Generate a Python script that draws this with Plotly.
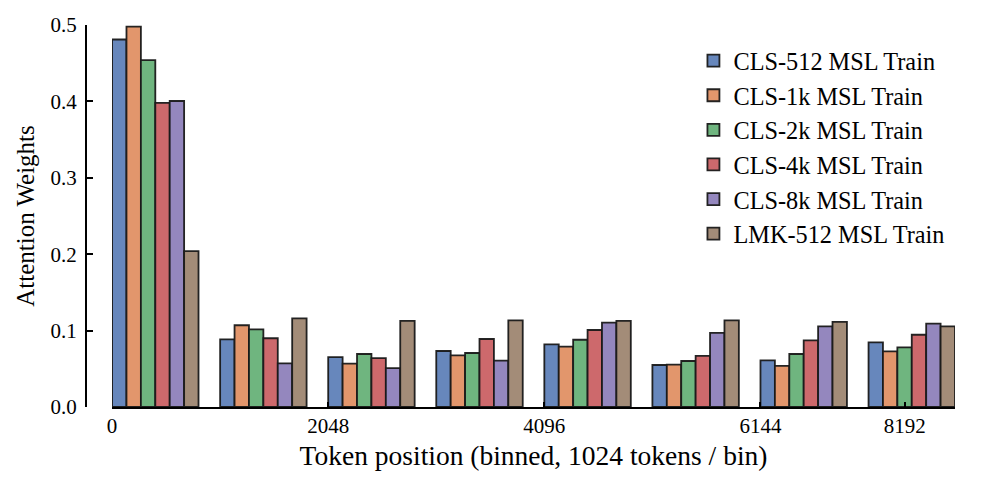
import plotly.graph_objects as go

# ---- data ----
bin_starts = [0, 1024, 2048, 3072, 4096, 5120, 6144, 7168]
series_names = ["CLS-512 MSL Train", "CLS-1k MSL Train", "CLS-2k MSL Train",
                "CLS-4k MSL Train", "CLS-8k MSL Train", "LMK-512 MSL Train"]
cls_512 = [0.481, 0.0886, 0.0654, 0.0733, 0.082, 0.055, 0.0611, 0.0847]
cls_1k = [0.498, 0.107, 0.0567, 0.0677, 0.079, 0.0554, 0.0537, 0.0729]
cls_2k = [0.454, 0.1017, 0.0694, 0.0707, 0.088, 0.0602, 0.0694, 0.0781]
cls_4k = [0.398, 0.090, 0.0641, 0.089, 0.1008, 0.0668, 0.0873, 0.0946]
cls_8k = [0.4005, 0.0572, 0.051, 0.0606, 0.1104, 0.0969, 0.1056, 0.109]
lmk_512 = [0.204, 0.116, 0.1126, 0.1135, 0.1126, 0.1135, 0.1113, 0.1056]
tick_positions = [0, 2048, 4096, 6144, 7510]
tick_labels = ["0", "2048", "4096", "6144", "8192"]

# ---- style ----
colors = ["rgb(103,135,188)", "rgb(226,150,108)", "rgb(111,181,127)",
          "rgb(205,105,108)", "rgb(148,135,190)", "rgb(163,140,120)"]
FONT = "Liberation Serif"
bin_size = 1024
group_frac = 0.8
bar_w = bin_size * group_frac / len(series_names)

all_series = [cls_512, cls_1k, cls_2k, cls_4k, cls_8k, lmk_512]

fig = go.Figure()
for i, (name, vals) in enumerate(zip(series_names, all_series)):
    fig.add_trace(go.Bar(
        x=bin_starts, y=vals, name=name,
        width=bar_w, offset=i * bar_w,
        marker=dict(color=colors[i], line=dict(color="rgba(25,25,25,0.95)", width=1.8)),
        legendgroup=name,
    ))

fig.update_layout(
    width=997, height=488,
    margin=dict(l=86, r=42, t=25, b=81),
    paper_bgcolor="white", plot_bgcolor="white",
    barmode="overlay",
    font=dict(family=FONT, size=21, color="black"),
    showlegend=True,
    legend=dict(x=0.699, y=0.965, xanchor="left", yanchor="top",
                font=dict(size=24.3), tracegroupgap=0,
                bgcolor="rgba(0,0,0,0)"),
    xaxis=dict(range=[0, bin_starts[-1] + bin_size * group_frac],
               domain=[0.03, 1], anchor="y", automargin=False,
               tickvals=tick_positions, ticktext=tick_labels,
               ticks="inside", ticklen=5, tickwidth=1.5, tickcolor="black",
               ticklabelstandoff=-1,
               showline=True, linecolor="black", linewidth=2,
               showgrid=False, zeroline=False,
               title=dict(text="Token position (binned, 1024 tokens / bin)",
                          font=dict(size=27.5), standoff=9)),
    yaxis=dict(range=[0, 0.5], dtick=0.1, tickformat=".1f",
               anchor="free", position=0, automargin=False,
               ticks="inside", ticklen=6, tickwidth=1.5, tickcolor="black",
               ticklabelstandoff=4,
               showline=True, linecolor="black", linewidth=2,
               showgrid=False, zeroline=False,
               title=dict(text="Attention Weights", font=dict(size=25), standoff=8)),
)

fig.write_html("out.html", config={"displayModeBar": False},
               post_script="document.body.style.margin='0';")
